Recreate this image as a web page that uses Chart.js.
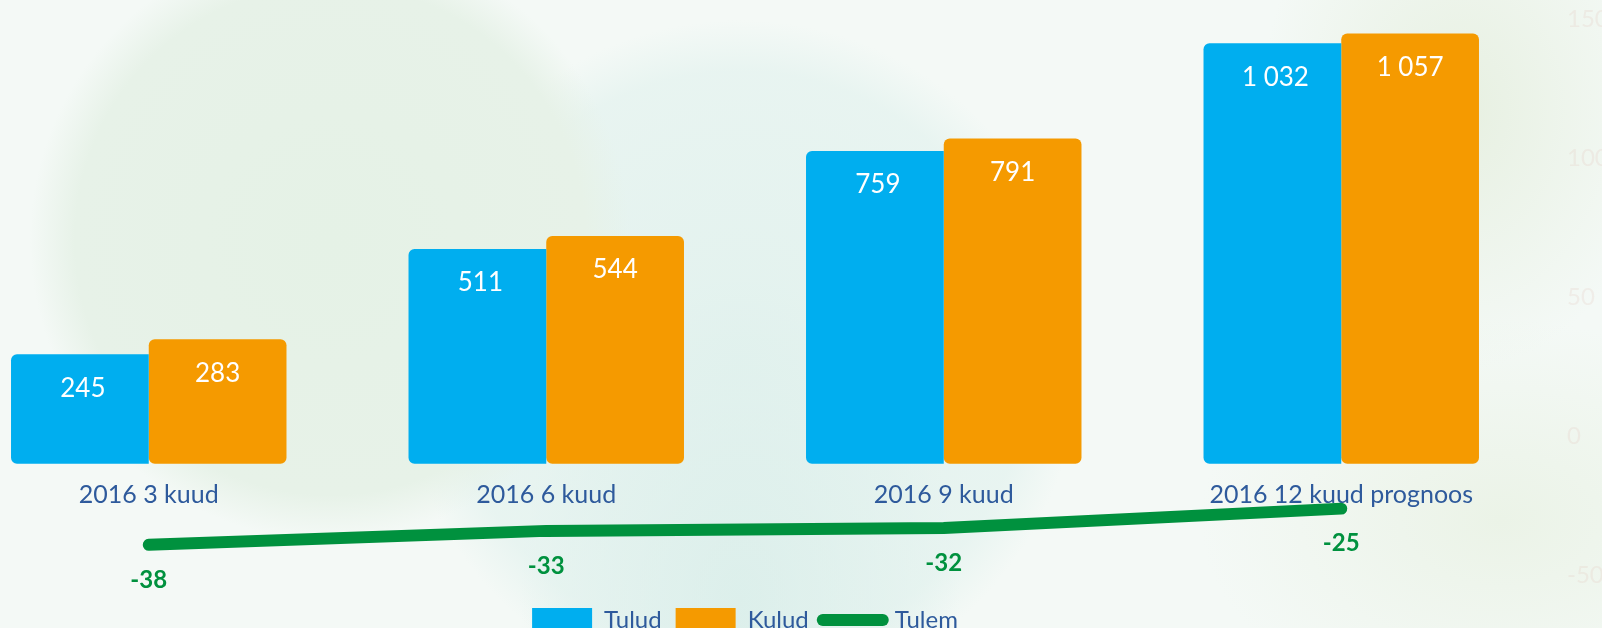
<!DOCTYPE html>
<html>
<head>
<meta charset="utf-8">
<script src="https://cdn.jsdelivr.net/npm/chart.js@4.4.1/dist/chart.umd.min.js"></script>
<style>
  html, body {
    margin: 0;
    width: 1602px;
    height: 628px;
    overflow: hidden;
    background:
      radial-gradient(circle 300px at 330px 240px, #e5f2e6 0%, #e7f2e8 85%, rgba(231,242,232,0) 100%),
      radial-gradient(circle 340px at 740px 360px, rgba(222,240,236,0.8) 0%, rgba(224,241,237,0.6) 85%, rgba(224,241,237,0) 100%),
      radial-gradient(ellipse 220px 320px at 740px 600px, #d6ece8 0%, rgba(214,236,232,0) 100%),
      radial-gradient(ellipse 200px 260px at 1460px 110px, #e7f0e1 0%, rgba(231,240,225,0) 100%),
      radial-gradient(ellipse 300px 200px at 1500px 520px, #ebf3e7 0%, rgba(235,243,231,0) 100%),
      #f4f9f6;
  }
  .wrap {
    position: absolute;
    left: -60px;
    top: 0;
    width: 1662px;
    height: 642px;
  }
</style>
</head>
<body>
<div class="wrap"><canvas id="grafik"></canvas></div>
<script>
const kategooriad = ['2016 3 kuud', '2016 6 kuud', '2016 9 kuud', '2016 12 kuud prognoos'];
const tulud = [245, 511, 759, 1032];
const kulud = [283, 544, 791, 1057];
const tulem = [-38, -33, -32, -25];
const tulemTicks = [-50, 0, 50, 100, 150];

const tekstiVarv = '#2e5a9c';
const roheline = '#00913e';

function vorminda(v) {
    return String(v).replace(/\B(?=(\d{3})+(?!\d))/g, ' ');
}

// vaartused tulpade sees ja joone all
const sildid = {
    id: 'sildid',
    afterDatasetsDraw(chart) {
        const ctx = chart.ctx;
        ctx.save();
        ctx.textAlign = 'center';
        ctx.textBaseline = 'middle';
        ctx.fillStyle = '#ffffff';
        ctx.font = '26px Lato';
        [0, 1].forEach(i => {
            const nihe = i === 0 ? 3 : 0;
            chart.getDatasetMeta(i).data.forEach((bar, j) => {
                ctx.fillText(vorminda(chart.data.datasets[i].data[j]), bar.x + nihe, bar.y + 34);
            });
        });
        ctx.fillStyle = roheline;
        ctx.font = 'bold 24px Lato';
        chart.getDatasetMeta(2).data.forEach((pt, j) => {
            ctx.fillText(vorminda(tulem[j]), pt.x, pt.y + 35);
        });
        // parema telje hele skaala
        const s = chart.scales.yLine;
        ctx.textAlign = 'left';
        ctx.fillStyle = 'rgba(225,190,180,0.2)';
        ctx.font = '24px Lato';
        tulemTicks.forEach(t => {
            ctx.fillText(t, chart.chartArea.right + 27, s.getPixelForValue(t) - 3);
        });
        ctx.restore();
    }
};

const ctx = document.getElementById('grafik').getContext('2d');
const chart = new Chart(ctx, {
    data: {
        labels: kategooriad,
        datasets: [{
            type: 'bar',
            label: 'Tulud',
            data: tulud,
            yAxisID: 'yBar',
            backgroundColor: '#00aeef',
            borderRadius: {topLeft: 6, bottomLeft: 6, topRight: 0, bottomRight: 0},
            borderSkipped: false,
            base: -32.7,
            categoryPercentage: 0.693,
            barPercentage: 1.0
        }, {
            type: 'bar',
            label: 'Kulud',
            data: kulud,
            yAxisID: 'yBar',
            backgroundColor: '#f59a00',
            borderRadius: 6,
            borderSkipped: false,
            base: -32.7,
            categoryPercentage: 0.693,
            barPercentage: 1.0
        }, {
            type: 'line',
            label: 'Tulem',
            data: tulem,
            yAxisID: 'yLine',
            borderColor: roheline,
            backgroundColor: roheline,
            borderWidth: 12,
            borderCapStyle: 'round',
            borderJoinStyle: 'round',
            pointRadius: 0,
            tension: 0,
            clip: false
        }]
    },
    options: {
        responsive: true,
        maintainAspectRatio: false,
        animation: false,
        layout: {
            padding: {top: 22, left: 10, right: 62, bottom: 0}
        },
        scales: {
            x: {
                position: {yBar: -32.7},
                grid: {display: false},
                border: {display: false},
                ticks: {
                    color: tekstiVarv,
                    font: {family: 'Lato', size: 25},
                    padding: 8,
                    maxRotation: 0,
                    autoSkip: false
                }
            },
            yBar: {
                display: false,
                min: -362.2,
                max: 1085.8
            },
            yLine: {
                display: false,
                position: 'right',
                min: -55.7,
                max: 150
            }
        },
        plugins: {
            tooltip: {enabled: false},
            legend: {
                position: 'bottom',
                sort: (a, b) => a.datasetIndex - b.datasetIndex,
                labels: {
                    usePointStyle: true,
                    pointStyleWidth: 60,
                    boxHeight: 24,
                    padding: 14,
                    color: tekstiVarv,
                    font: {family: 'Lato', size: 24},
                    generateLabels: (chart) => chart.data.datasets.map((ds, i) => ({
                        text: ds.label,
                        datasetIndex: i,
                        fillStyle: ds.backgroundColor,
                        strokeStyle: ds.type === 'line' ? ds.borderColor : ds.backgroundColor,
                        lineWidth: ds.type === 'line' ? 12 : 0,
                        lineCap: 'round',
                        pointStyle: ds.type === 'line' ? 'line' : 'rect',
                        fontColor: tekstiVarv,
                        hidden: false
                    }))
                }
            }
        }
    },
    plugins: [sildid]
});
</script>
</body>
</html>
